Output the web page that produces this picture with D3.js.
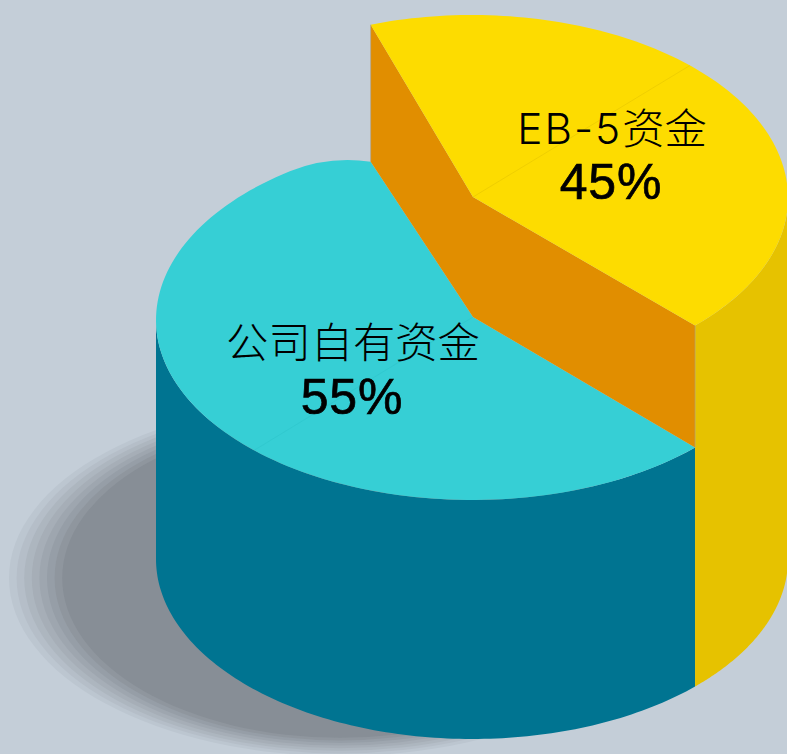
<!DOCTYPE html>
<html>
<head>
<meta charset="utf-8">
<script src="https://cdn.jsdelivr.net/npm/d3@7"></script>
<style>
  html, body { margin: 0; padding: 0; background: #c4ced8; overflow: hidden; }
  svg { display: block; }
  text { font-family: "Liberation Sans", "Noto Sans CJK SC", sans-serif; text-anchor: middle; fill: #000; }
  .cat { font-family: "Inter", "Noto Sans CJK SC", sans-serif; }
</style>
</head>
<body>
<script>
var categories = ["EB-5资金", "公司自有资金"];
var shares = [45, 55];
var percentLabels = ["45%", "55%"];

var width = 787,
    height = 754;

// same ellipse three times, only the height on the page changes
var cx = 472, rx = 316, ry = 180;
var yellowY = 198, tealY = 320, baseY = 559;
var apexX = 473;
var frontDrop = 120, backDrop = 137;   // wall is taller at the back in the source picture

var colors = {
  yellowTop: "#fddc00", yellowSide: "#e6c200",
  tealTop: "#36cfd5", tealSide: "#007491",
  wall: "#e18e00", shadow: "#878e96", bg: "#c4ced8"
};

// the drawing is not a true pie, the 45% slice covers about 154 degrees
// the teal rim stops at the shoulder, the rest is the curve added below
var angle = d3.scaleLinear()
    .domain([0, shares[0], shares[0] + shares[1]])
    .range([-18.7, 135.1, 324.8].map(function(d){ return d * Math.PI / 180; }));

// back half of the rim is a little taller than the front half
var rim = function(a, y, up){
  var c = Math.cos(a);
  return [cx + rx * Math.sin(a), y - (c > 0 ? (up || ry) : ry) * c];
};
var rimPoints = function(a0, a1, y, up){
  return d3.range(0, 121).map(function(i){
    return rim(a0 + (a1 - a0) * i / 120, y, up);
  });
};
var line = d3.line();
var closedPath = function(pts){ return line(pts) + "Z"; };

var svg = d3.select("body").append("svg")
    .attr("width", width)
    .attr("height", height);

svg.append("rect").attr("width", width).attr("height", height).attr("fill", colors.bg);

// stepped shadow on the floor
var rings = d3.range(0, 8);
var ringColor = d3.scaleLinear().domain([0, 8]).range([colors.bg, colors.shadow]);
svg.append("g").selectAll("ellipse")
    .data(rings)
  .enter().append("ellipse")
    .attr("cx", 340)
    .attr("cy", 578)
    .attr("rx", function(d){ return 331 - d * 7.6; })
    .attr("ry", function(d){ return 178 - d * 2.6; })
    .attr("fill", function(d){ return ringColor(d + 1); });

var cum = d3.cumsum(shares);
var aLeft = angle(0), aRight = angle(cum[0]), aEnd = angle(cum[1]);

var rightTop = rim(aRight, yellowY),
    leftTop = rim(aLeft, yellowY, 183),
    apexTop = [apexX, yellowY - 1];
var rightLow = rim(aRight, tealY),
    apexLow = [apexX, apexTop[1] + frontDrop],
    leftLow = [leftTop[0], leftTop[1] + backDrop];

// teal outer wall
svg.append("path")
    .attr("d", closedPath(rimPoints(aRight, 1.5 * Math.PI, baseY)
      .concat(rimPoints(1.5 * Math.PI, aRight, tealY))))
    .attr("fill", colors.tealSide);

// teal top, flattens out before it reaches the cut
svg.append("path")
    .attr("d", line(rimPoints(aRight, aEnd, tealY, 182))
      + "Q" + [328, 155.8] + " " + leftLow + "L" + apexLow + "Z")
    .attr("fill", colors.tealTop);

// yellow outer wall
svg.append("path")
    .attr("d", closedPath(rimPoints(Math.PI / 2, aRight, yellowY)
      .concat(rimPoints(aRight, Math.PI / 2, baseY))))
    .attr("fill", colors.yellowSide);

// inner cut
svg.append("path")
    .attr("d", closedPath([leftTop, apexTop, rightTop, rightLow, apexLow, leftLow]))
    .attr("fill", colors.wall);

// yellow top
svg.append("path")
    .attr("d", closedPath(rimPoints(aLeft, aRight, yellowY, 183).concat([apexTop])))
    .attr("fill", colors.yellowTop);

// thin grey edges and faint seams left in the source
[[leftTop, leftLow], [rightTop, rightLow]].forEach(function(e){
  svg.append("path")
      .attr("d", line(e))
      .attr("stroke", "#a8a08c").attr("stroke-opacity", 0.6).attr("fill", "none");
});
var seam = 43.6 * Math.PI / 180;
svg.append("path")
    .attr("d", line([apexTop, rim(seam, yellowY, 183)]))
    .attr("stroke", "#c9a800").attr("stroke-opacity", 0.25).attr("fill", "none");
svg.append("path")
    .attr("d", line([apexLow, rim(seam + Math.PI, tealY)]))
    .attr("stroke", "#1fb4ba").attr("stroke-opacity", 0.2).attr("fill", "none");

// labels
var labelPos = [[612, 144], [353, 358]];
var percentPos = [[611, 199], [352, 414]];

var cats = svg.selectAll("text.cat")
    .data(categories)
  .enter().append("text")
    .attr("class", "cat")
    .attr("x", function(d, i){ return labelPos[i][0]; })
    .attr("y", function(d, i){ return labelPos[i][1]; })
    .attr("font-size", 42.3)
    .attr("font-weight", 300);

// latin part sits wider than the chinese part
cats.selectAll("tspan")
    .data(function(d){ return d.match(/[\x00-\x7f]+|[^\x00-\x7f]+/g); })
  .enter().append("tspan")
    .attr("letter-spacing", function(d){ return /[\x00-\x7f]/.test(d) ? 2 : 0; })
    .text(function(d){ return d; });

svg.selectAll("text.pct")
    .data(percentLabels)
  .enter().append("text")
    .attr("class", "pct")
    .attr("x", function(d, i){ return percentPos[i][0]; })
    .attr("y", function(d, i){ return percentPos[i][1]; })
    .attr("font-size", 50)
    .attr("letter-spacing", 0.8)
    .attr("stroke", "#000")
    .attr("stroke-width", 0.7)
    .text(function(d){ return d; });
</script>
</body>
</html>
